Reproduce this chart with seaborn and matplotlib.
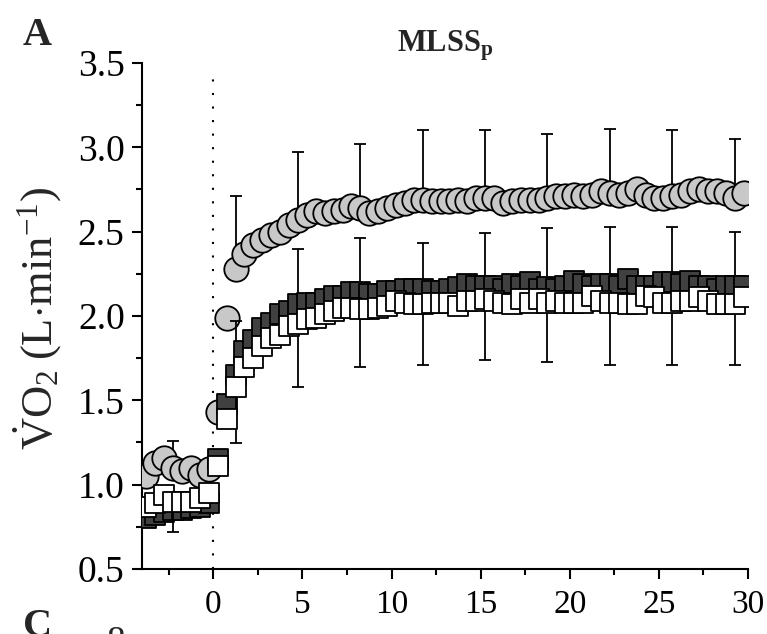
import matplotlib
matplotlib.use("Agg")
import matplotlib.pyplot as plt
import numpy as np
import pandas as pd
import seaborn as sns

# ---------------- data ----------------
time_min = [-3.75, -3.25, -2.75, -2.25, -1.75, -1.25, -0.75, -0.25,
            0.25, 0.75, 1.25, 1.75, 2.25, 2.75, 3.25, 3.75, 4.25, 4.75,
            5.25, 5.75, 6.25, 6.75, 7.25, 7.75, 8.25, 8.75, 9.25, 9.75,
            10.25, 10.75, 11.25, 11.75, 12.25, 12.75, 13.25, 13.75, 14.25, 14.75,
            15.25, 15.75, 16.25, 16.75, 17.25, 17.75, 18.25, 18.75, 19.25, 19.75,
            20.25, 20.75, 21.25, 21.75, 22.25, 22.75, 23.25, 23.75, 24.25, 24.75,
            25.25, 25.75, 26.25, 26.75, 27.25, 27.75, 28.25, 28.75, 29.25, 29.75]

vo2_circle = [1.05, 1.13, 1.16, 1.10, 1.08, 1.10, 1.06, 1.09,
              1.43, 1.99, 2.28, 2.37, 2.42, 2.45, 2.48, 2.50, 2.54, 2.57,
              2.60, 2.62, 2.61, 2.62, 2.63, 2.65, 2.64, 2.61, 2.62, 2.64,
              2.66, 2.67, 2.69, 2.69, 2.68, 2.68, 2.68, 2.69, 2.68, 2.70,
              2.70, 2.70, 2.67, 2.68, 2.69, 2.69, 2.69, 2.70, 2.71, 2.71,
              2.72, 2.71, 2.72, 2.74, 2.73, 2.72, 2.73, 2.75, 2.72, 2.70,
              2.70, 2.71, 2.72, 2.74, 2.75, 2.74, 2.74, 2.73, 2.70, 2.73]

vo2_dark = [0.80, 0.82, 0.84, 0.85, 0.85, 0.86, 0.87, 0.89,
            1.15, 1.48, 1.65, 1.79, 1.86, 1.93, 1.96, 2.01, 2.03, 2.07,
            2.08, 2.08, 2.10, 2.12, 2.12, 2.14, 2.14, 2.13, 2.13, 2.15,
            2.15, 2.16, 2.16, 2.16, 2.15, 2.15, 2.16, 2.17, 2.19, 2.18,
            2.18, 2.18, 2.16, 2.19, 2.18, 2.20, 2.16, 2.17, 2.16, 2.18,
            2.21, 2.19, 2.18, 2.19, 2.19, 2.18, 2.22, 2.18, 2.18, 2.18,
            2.20, 2.20, 2.19, 2.21, 2.18, 2.18, 2.16, 2.18, 2.18, 2.18]

vo2_white = [0.87, 0.89, 0.94, 0.90, 0.90, 0.90, 0.92, 0.95,
             1.11, 1.39, 1.58, 1.70, 1.75, 1.82, 1.87, 1.89, 1.94, 1.95,
             1.98, 1.99, 2.01, 2.03, 2.05, 2.05, 2.04, 2.04, 2.05, 2.06,
             2.09, 2.08, 2.07, 2.07, 2.08, 2.08, 2.08, 2.06, 2.09, 2.09,
             2.10, 2.09, 2.08, 2.07, 2.10, 2.08, 2.10, 2.08, 2.09, 2.08,
             2.08, 2.08, 2.12, 2.09, 2.08, 2.08, 2.07, 2.07, 2.12, 2.11,
             2.08, 2.08, 2.09, 2.09, 2.11, 2.09, 2.07, 2.07, 2.07, 2.11]

# error-bar positions and cap levels
err_time = [-2.25, 1.25, 4.75, 8.25, 11.75, 15.25, 18.75, 22.25, 25.75, 29.25]
circle_upper_cap = [1.26, 2.71, 2.97, 3.02, 3.10, 3.10, 3.08, 3.11, 3.10, 3.05]
dark_upper_cap = [0.95, 1.97, 2.40, 2.46, 2.43, 2.49, 2.52, 2.53, 2.53, 2.50]
white_lower_cap = [0.72, 1.245, 1.58, 1.70, 1.71, 1.74, 1.73, 1.71, 1.71, 1.71]

x_ticks = [0, 5, 10, 15, 20, 25, 30]
y_ticks = [0.5, 1.0, 1.5, 2.0, 2.5, 3.0, 3.5]

# ---------------- style ----------------
sns.set_theme(style="ticks")
plt.rcParams["font.family"] = ["Liberation Serif", "DejaVu Serif"]
plt.rcParams["mathtext.fontset"] = "custom"
plt.rcParams["mathtext.rm"] = "Liberation Serif"
plt.rcParams["mathtext.it"] = "Liberation Serif:italic"
plt.rcParams["mathtext.bf"] = "Liberation Serif:bold"

df = pd.DataFrame({"t": time_min, "circle": vo2_circle,
                   "dark": vo2_dark, "white": vo2_white})
lookup = df.set_index("t")

fig = plt.figure(figsize=(7.67, 6.34), dpi=100)
ax = fig.add_axes([142 / 767, 1 - 569 / 634, (748 - 142) / 767, (569 - 63) / 634])

# dotted line at exercise onset
ax.plot([0, 0], [0.5, 3.47], color="black", lw=1.5,
        linestyle=(0, (1, 5.5)), zorder=1)

lw_e = 1.3
# circle error bars (upward)
c_mean = np.array([lookup.loc[t, "circle"] for t in err_time])
ax.errorbar(err_time, c_mean,
            yerr=[np.zeros(len(err_time)), np.array(circle_upper_cap) - c_mean],
            fmt="none", ecolor="black", elinewidth=lw_e, capsize=4.5,
            capthick=lw_e, zorder=2)
sns.scatterplot(data=df, x="t", y="circle", marker="o", s=310,
                color="#c8c8c8", edgecolor="black", linewidth=1.3,
                ax=ax, zorder=3, legend=False)

d_mean = np.array([lookup.loc[t, "dark"] for t in err_time])
ax.errorbar(err_time, d_mean,
            yerr=[np.zeros(len(err_time)), np.array(dark_upper_cap) - d_mean],
            fmt="none", ecolor="black", elinewidth=lw_e, capsize=4.5,
            capthick=lw_e, zorder=4)
sns.scatterplot(data=df, x="t", y="dark", marker="s", s=200,
                color="#404040", edgecolor="black", linewidth=1.3,
                ax=ax, zorder=5, legend=False)

w_mean = np.array([lookup.loc[t, "white"] for t in err_time])
ax.errorbar(err_time, w_mean,
            yerr=[w_mean - np.array(white_lower_cap), np.zeros(len(err_time))],
            fmt="none", ecolor="black", elinewidth=lw_e, capsize=4.5,
            capthick=lw_e, zorder=6)
sns.scatterplot(data=df, x="t", y="white", marker="s", s=200,
                color="white", edgecolor="black", linewidth=1.3,
                ax=ax, zorder=7, legend=False)

# ---------------- axes ----------------
ax.set_xlim(-4, 30)
ax.set_ylim(0.5, 3.5)
ax.set_xticks(x_ticks)
ax.set_xticklabels([str(v) for v in x_ticks])
ax.set_yticks(y_ticks)
ax.set_yticklabels([f"{v:.1f}" for v in y_ticks])
ax.set_xticks([-2.5, 2.5, 7.5, 12.5, 17.5, 22.5, 27.5], minor=True)
ax.set_yticks([0.75, 1.25, 1.75, 2.25, 2.75, 3.25], minor=True)
ax.tick_params(axis="both", which="major", direction="out", length=7.5,
               width=1.5, color="black", labelcolor="black")
ax.tick_params(axis="both", which="minor", direction="out", length=4.5,
               width=1.5, color="black")
ax.tick_params(axis="y", which="major", labelsize=27, pad=5)
ax.tick_params(axis="x", which="major", labelsize=24, pad=7)
for side in ["top", "right"]:
    ax.spines[side].set_visible(False)
for side in ["left", "bottom"]:
    ax.spines[side].set_linewidth(1.5)
    ax.spines[side].set_color("black")
ax.set_xlabel("")
ax.set_ylabel("")
ax.set_facecolor("white")
ax.grid(False)

ax.set_title(r"$\mathbf{MLSS}_{\mathbf{p}}$", fontsize=22, pad=8)

fig.text(38 / 767, 1 - 318 / 634,
         r"$\dot{\mathrm{V}}\mathrm{O}_2\;(\mathrm{L{\cdot}min}^{-1})$",
         rotation=90, ha="center", va="center", fontsize=32)

fig.text(23 / 767, 1 - 45 / 634, "A", fontsize=29, fontweight="bold",
         ha="left", va="baseline")
fig.text(23 / 767, 1 - 608 / 634, "C", fontsize=29, fontweight="bold",
         ha="left", va="top")
fig.text(116 / 767, 1 - 626 / 634, "8", fontsize=27, ha="center", va="top")

fig.savefig("out.png", dpi=100, facecolor="white")
